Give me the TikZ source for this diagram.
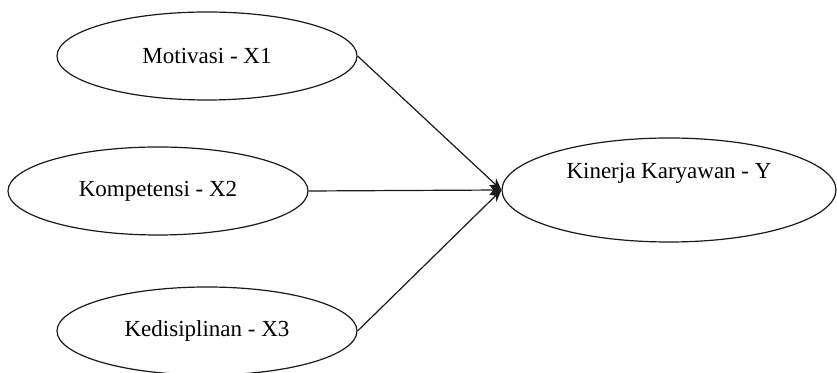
\documentclass[tikz,border=0pt]{standalone}
\usepackage{fontspec}
\setmainfont{Liberation Serif}
\usetikzlibrary{shapes.geometric,arrows.meta}
\definecolor{LineBlack}{rgb}{0.1,0.1,0.1}

\tikzset{
  varbox/.style={draw=LineBlack, ellipse, line width=0.6pt, inner sep=0pt,
    minimum width=150pt, minimum height=44pt, font=\fontsize{11.5}{14}\selectfont},
  pathline/.style={draw=LineBlack, line width=0.6pt, -{Stealth[length=6pt,width=5pt]}}
}

\begin{document}
\begin{tikzpicture}[x=0.5pt, y=-0.5pt]

% ============================================================
% Frame: 837 x 373 px, origin top-left
% ============================================================
\useasboundingbox (0,0) rectangle (837,373);

% Independent variables
\node[varbox] (motivasi) at (207,56) {Motivasi - X1};
\node[varbox] (kompetensi) at (158,191) {Kompetensi - X2};
\node[varbox] (disiplin) at (207,331) {Kedisiplinan - X3};

% Dependent variable (label sits high in the ellipse)
\node[varbox, minimum width=167pt, minimum height=52pt, text depth=19.5pt] (kinerja) at (669,190) {Kinerja Karyawan - Y};

% Paths into Y
\foreach \src in {motivasi,kompetensi,disiplin}{%
  \draw[pathline] (\src.east) -- (kinerja.west);
}

\end{tikzpicture}
\end{document}
